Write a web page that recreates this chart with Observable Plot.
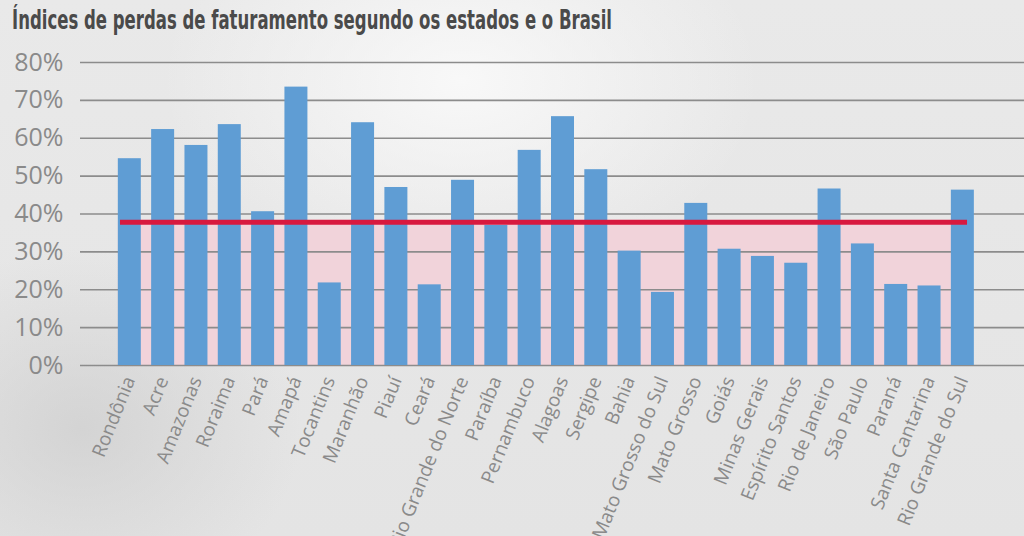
<!DOCTYPE html>
<html>
<head>
<meta charset="utf-8">
<script src="https://cdn.jsdelivr.net/npm/d3@7"></script>
<script src="https://cdn.jsdelivr.net/npm/@observablehq/plot@0.6"></script>
<style>
  html, body { margin: 0; padding: 0; }
  body {
    width: 1024px; height: 536px; overflow: hidden;
    background:
      radial-gradient(ellipse 300px 200px at 45% 15%, rgba(250,250,250,0.9), rgba(250,250,250,0) 100%),
      radial-gradient(ellipse 220px 180px at 8% 80%, rgba(200,200,200,0.6), rgba(200,200,200,0) 100%),
      linear-gradient(#e9e9e9, #e4e4e4);
    font-family: "Open Sans", sans-serif;
  }
  #title {
    height: 40px; line-height: 40px; padding-left: 12px;
    font-family: "Liberation Sans Narrow", "DejaVu Sans Condensed", "Roboto", sans-serif;
    font-stretch: condensed;
    font-weight: bold; font-size: 27px; color: #4a4a4a;
    white-space: nowrap;
  }
  #title span { display: inline-block; transform-origin: 0 50%; }
</style>
</head>
<body>
<div id="title"><span>Índices de perdas de faturamento segundo os estados e o Brasil</span></div>
<div id="chart"></div>
<script>
const states = ["Rondônia","Acre","Amazonas","Roraima","Pará","Amapá","Tocantins","Maranhão","Piauí","Ceará",
  "Rio Grande do Norte","Paraíba","Pernambuco","Alagoas","Sergipe","Bahia","Mato Grosso do Sul","Mato Grosso",
  "Goiás","Minas Gerais","Espírito Santos","Rio de Janeiro","São Paulo","Paraná","Santa Cantarina","Rio Grande do Sul"];
const losses = [54.6,62.3,58.1,63.6,40.6,73.5,21.8,64.1,47.0,21.3,
  48.9,37.0,56.8,65.7,51.7,30.2,19.3,42.8,
  30.7,28.8,27.0,46.6,32.1,21.4,21.0,46.3];
const brasil = [37.8];
const yTicks = [0,10,20,30,40,50,60,70,80];

const data = states.map((s, i) => ({i, state: s, value: losses[i]}));
const n = states.length;
const half = 0.345;

const chart = Plot.plot({
  width: 1024,
  height: 496,
  marginTop: 22,
  marginBottom: 171,
  marginLeft: 80,
  marginRight: 0,
  style: {background: "transparent", color: "#8a8a8a", fontFamily: "'Open Sans', sans-serif", overflow: "visible"},
  x: {type: "linear", domain: [-1.48, 26.85], axis: null},
  y: {domain: [0, 80], axis: null},
  marks: [
    Plot.rectY(brasil, {x1: -half, x2: n - 1 - half, y1: 0, y2: d => d, fill: "#f1d2d9", fillOpacity: 0.95}),
    Plot.ruleY(yTicks, {stroke: "#8c8c8c", strokeWidth: 1.6}),
    Plot.rectY(data, {x1: d => d.i - half, x2: d => d.i + half, y1: 0, y2: "value", fill: "#5f9dd4"}),
    Plot.ruleY(brasil, {x1: -0.28, x2: n - 1 + 0.14, stroke: "#d8193f", strokeWidth: 5}),
    Plot.axisY({ticks: yTicks, tickFormat: d => d + "%", tickSize: 0, tickPadding: 17, fontSize: 25, fill: "#8a8a8a", label: null}),
    Plot.axisX({ticks: d3.range(n), tickFormat: i => states[i], tickRotate: -68, tickSize: 0, tickPadding: 12, fontSize: 19, fill: "#8a8a8a", label: null})
  ]
});
document.getElementById("chart").appendChild(chart);

const span = document.querySelector("#title span");
const w = span.getBoundingClientRect().width;
span.style.transform = `scaleX(${600 / w})`;
</script>
</body>
</html>
